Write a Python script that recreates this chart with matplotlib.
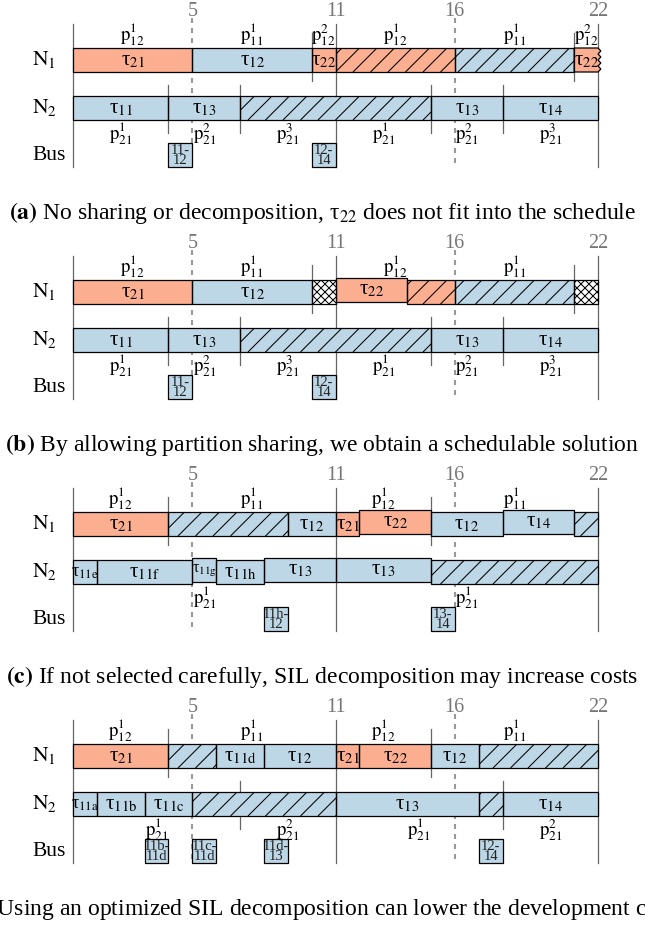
import matplotlib
matplotlib.use("Agg")
import matplotlib.pyplot as plt
from matplotlib.patches import Rectangle, Polygon
from matplotlib.collections import LineCollection
from matplotlib.transforms import blended_transform_factory
import numpy as np

plt.rcParams['font.family'] = ['Liberation Serif', 'DejaVu Serif']
plt.rcParams['mathtext.fontset'] = 'stix'

# colours (critical / non-critical tasks)
CRIT = '#fcae91'
NONCRIT = '#bdd7e7'

HORIZON = 22
MARKS = [5, 11, 16, 22]
DASHED = [5, 16]
SOLID = [0, 11, 22]

# segment = (start, end, task, kind)
# kind: c critical, n non-critical, ch / nh idle (hatched), x unused, cz cut off
A_N1 = [(0, 5, '21', 'c'), (5, 10, '12', 'n'), (10, 11, '22', 'c'),
        (11, 16, None, 'ch'), (16, 21, None, 'nh'), (21, 22, '22', 'cz')]
A_N1_PART = [(0, 5, '12', '1'), (5, 10, '11', '1'), (10, 11, '12', '2'),
             (11, 16, '12', '1'), (16, 21, '11', '1'), (21, 22, '12', '2')]
A_N2 = [(0, 4, '11', 'n'), (4, 7, '13', 'n'), (7, 15, None, 'nh'),
        (15, 18, '13', 'n'), (18, 22, '14', 'n')]
A_N2_PART = [(0, 4, '21', '1'), (4, 7, '21', '2'), (7, 11, '21', '3'),
             (11, 15, '21', '1'), (15, 18, '21', '2'), (18, 22, '21', '3')]
A_BUS = [(4, 5, '11-\n12'), (10, 11, '12-\n14')]
A_CAPTION = r'$\mathbf{(a)}$ No sharing or decomposition, τ$_{22}$ does not fit into the schedule'

B_N1 = [(0, 5, '21', 'c'), (5, 10, '12', 'n'), (10, 11, None, 'x'),
        (11, 14, '22', 'c'), (14, 16, None, 'ch'), (16, 21, None, 'nh'),
        (21, 22, None, 'x')]
B_N1_PART = [(0, 5, '12', '1'), (5, 10, '11', '1'), (10, 11, None, None),
             (11, 16, '12', '1'), (16, 21, '11', '1'), (21, 22, None, None)]
B_N2 = A_N2
B_N2_PART = A_N2_PART
B_BUS = A_BUS
B_CAPTION = r'$\mathbf{(b)}$ By allowing partition sharing, we obtain a schedulable solution'

C_N1 = [(0, 4, '21', 'c'), (4, 9, None, 'nh'), (9, 11, '12', 'n'),
        (11, 12, '21', 'c'), (12, 15, '22', 'c'), (15, 18, '12', 'n'),
        (18, 21, '14', 'n'), (21, 22, None, 'nh')]
C_N1_PART = [(0, 4, '12', '1'), (4, 11, '11', '1'), (11, 15, '12', '1'),
             (15, 22, '11', '1')]
C_N2 = [(0, 1, '11e', 'n'), (1, 5, '11f', 'n'), (5, 6, '11g', 'n'),
        (6, 8, '11h', 'n'), (8, 11, '13', 'n'), (11, 15, '13', 'n'),
        (15, 22, None, 'nh')]
C_N2_PART = [(0, 11, '21', '1'), (11, 22, '21', '1')]
C_BUS = [(8, 9, '11h-\n12'), (15, 16, '13-\n14')]
C_CAPTION = r'$\mathbf{(c)}$ If not selected carefully, SIL decomposition may increase costs'

D_N1 = [(0, 4, '21', 'c'), (4, 6, None, 'nh'), (6, 8, '11d', 'n'),
        (8, 11, '12', 'n'), (11, 12, '21', 'c'), (12, 15, '22', 'c'),
        (15, 17, '12', 'n'), (17, 22, None, 'nh')]
D_N1_PART = C_N1_PART
D_N2 = [(0, 1, '11a', 'n'), (1, 3, '11b', 'n'), (3, 5, '11c', 'n'),
        (5, 11, None, 'nh'), (11, 17, '13', 'n'), (17, 18, None, 'nh'),
        (18, 22, '14', 'n')]
D_N2_PART = [(0, 7, '21', '1'), (7, 11, '21', '2'), (11, 18, '21', '1'),
             (18, 22, '21', '2')]
D_BUS = [(3, 4, '11b-\n11d'), (5, 6, '11c-\n11d'), (8, 9, '11d-\n13'),
         (17, 18, '12-\n14')]
D_CAPTION = (r'$\mathbf{(d)}$ Using an optimized SIL decomposition can lower '
             r'the development costs')

# blocks drawn slightly higher than the row (panel, row, start)
LIFTED = {('b', 1, 11), ('c', 1, 12), ('c', 1, 18),
          ('c', 2, 5), ('c', 2, 8), ('c', 2, 11)}

PANELS = [
    ('a', A_N1, A_N1_PART, A_N2, A_N2_PART, A_BUS, A_CAPTION),
    ('b', B_N1, B_N1_PART, B_N2, B_N2_PART, B_BUS, B_CAPTION),
    ('c', C_N1, C_N1_PART, C_N2, C_N2_PART, C_BUS, C_CAPTION),
    ('d', D_N1, D_N1_PART, D_N2, D_N2_PART, D_BUS, D_CAPTION),
]

# layout in pixels
W, H = 645, 925
PANEL_H = 232
X0, X1 = 73, 598
SC = (X1 - X0) / HORIZON
ROW_TOP = {1: 48, 2: 96}
BAR_H = 24
BUS_TOP = 143
LINE_GRAY = '#666666'

fig = plt.figure(figsize=(W / 100, H / 100), dpi=100)


def hatch(ax, patch, s, e, top, step_px, rising=True):
    # diagonal lines at 45 deg in pixel space, clipped to the patch
    dx = BAR_H / SC
    step = step_px / SC
    k0 = np.floor((s - dx) / step)
    segs = []
    for x in np.arange(k0 * step, e + step, step):
        if rising:
            segs.append([(x, top + BAR_H), (x + dx, top)])
        else:
            segs.append([(x, top), (x + dx, top + BAR_H)])
    lc = LineCollection(segs, colors='black', linewidths=0.75, zorder=3.5)
    ax.add_collection(lc)
    lc.set_clip_path(patch)


def draw_segment(ax, panel, row, seg):
    s, e, task, kind = seg
    top = ROW_TOP[row] - (2.5 if (panel, row, s) in LIFTED else 0)
    face = CRIT if kind in ('c', 'ch', 'cz') else NONCRIT
    if kind == 'x':
        face = 'white'
    if kind == 'cz':
        ys = np.linspace(top, top + BAR_H, 9)
        xs = e + np.where(np.arange(9) % 2 == 0, 0.0, 0.12)
        pts = [(s, top)] + list(zip(xs, ys)) + [(s, top + BAR_H)]
        ax.add_patch(Polygon(pts, closed=True, facecolor=face,
                             edgecolor='black', lw=0.9, zorder=3))
    else:
        rect = Rectangle((s, top), e - s, BAR_H, facecolor=face,
                         edgecolor='none', zorder=3)
        ax.add_patch(rect)
        if kind in ('ch', 'nh'):
            hatch(ax, rect, s, e, top, 17.5)
        elif kind == 'x':
            hatch(ax, rect, s, e, top, 8)
            hatch(ax, rect, s, e, top, 8, rising=False)
        ax.add_patch(Rectangle((s, top), e - s, BAR_H, facecolor='none',
                               edgecolor='black', lw=0.9, zorder=4))
    if task:
        fs = 15
        if len(task) > 2 and e - s <= 1:
            fs = 11.5 if task == '11g' else 13
        ax.text((s + e) / 2, top + BAR_H / 2 + 0.5, 'τ$_{\\mathrm{%s}}$' % task,
                ha='center', va='center', fontsize=fs, zorder=5)


def draw_partitions(ax, parts, row):
    bars_top = ROW_TOP[row]
    label_y = bars_top - 13 if row == 1 else bars_top + BAR_H + 14
    bounds = set()
    for s, e, sub, sup in parts:
        bounds.update([s, e])
        if sub:
            ax.text((s + e) / 2, label_y, r'$\mathrm{p}^{%s}_{%s}$' % (sup, sub),
                    ha='center', va='center', fontsize=13.5, zorder=5)
    for b in sorted(bounds):
        if b in SOLID or b in DASHED:
            continue
        if row == 1:
            ax.plot([b, b], [bars_top - 15, bars_top + BAR_H + 9],
                    color=LINE_GRAY, lw=0.9, zorder=2)
        else:
            ax.plot([b, b], [bars_top - 11, bars_top + BAR_H + 13],
                    color=LINE_GRAY, lw=0.9, zorder=2)


for i, (key, n1, n1p, n2, n2p, bus, caption) in enumerate(PANELS):
    top_px = i * PANEL_H
    ax = fig.add_axes([0, 1 - (top_px + PANEL_H) / H, 1, PANEL_H / H])
    ax.set_xlim(-X0 / SC, (W - X0) / SC)
    ax.set_ylim(PANEL_H, 0)
    ax.axis('off')

    for t in SOLID:
        ax.plot([t, t], [24, 167], color=LINE_GRAY, lw=0.9, zorder=1)
    for t in DASHED:
        ax.plot([t, t], [18, 167], color='#999999', lw=1.5,
                dashes=(2.4, 2.4), zorder=1)
    for t in MARKS:
        ax.text(t, 12, str(t), ha='center', va='center', fontsize=14.5,
                color='#777777')

    for seg in n1:
        draw_segment(ax, key, 1, seg)
    for seg in n2:
        draw_segment(ax, key, 2, seg)
    draw_partitions(ax, n1p, 1)
    draw_partitions(ax, n2p, 2)

    for s, e, msg in bus:
        ax.add_patch(Rectangle((s, BUS_TOP), e - s, BAR_H, facecolor=NONCRIT,
                               edgecolor='black', lw=0.9, zorder=3))
        ax.text((s + e) / 2, BUS_TOP + BAR_H / 2 + 0.5, msg, ha='center',
                va='center', fontsize=10.5, linespacing=0.8, color='#222222',
                zorder=5)

    lx = (32 - X0) / SC
    ax.text(lx, ROW_TOP[1] + BAR_H / 2, r'$\mathrm{N}_1$', ha='left',
            va='center', fontsize=15.5)
    ax.text(lx, ROW_TOP[2] + BAR_H / 2, r'$\mathrm{N}_2$', ha='left',
            va='center', fontsize=15.5)
    ax.text(lx, BUS_TOP + BAR_H / 2, 'Bus', ha='left', va='center', fontsize=15.5)

    trans = blended_transform_factory(ax.transAxes, ax.transData)
    ax.text(0.5, 213, caption, transform=trans, ha='center', va='center',
            fontsize=17)

fig.savefig('out.png', dpi=100)
